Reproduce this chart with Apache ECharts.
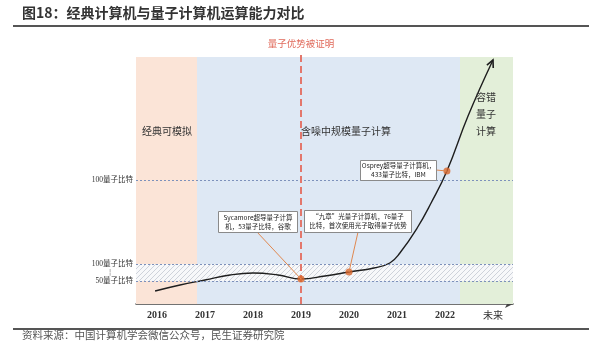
<!DOCTYPE html>
<html><head><meta charset="utf-8">
<script src="https://cdn.jsdelivr.net/npm/echarts@6/dist/echarts.min.js"></script>
<style>html,body{margin:0;padding:0;background:#fff}#c{width:589px;height:361px}</style>
</head><body><div id="c"></div>
<script>
// ---- data ----
const titleText = '图18：经典计算机与量子计算机运算能力对比';
const sourceText = '资料来源：中国计算机学会微信公众号，民生证券研究院';
const xTickValues = [2016, 2017, 2018, 2019, 2020, 2021, 2022, 2023];
const xTickLabels = ['2016', '2017', '2018', '2019', '2020', '2021', '2022', '未来'];
const yTickValues = [23, 40, 124];
const yTickLabels = ['50量子比特', '100量子比特', '100量子比特'];
const regionBounds = [2015.5625, 2016.833, 2022.3125, 2023.4167];
const regionNames = ['经典可模拟', '含噪中规模量子计算', '容错\n量子\n计算'];
const regionTop = 247;
const bandRange = [23, 40];
const curveYears = [2015.96, 2016.48, 2017.0, 2017.52, 2018.0, 2018.52, 2019.0, 2019.5, 2020.0, 2020.52, 2020.85, 2021.06, 2021.42, 2021.71, 2022.04, 2022.48, 2023.0];
const curveValues = [13, 19, 24, 29, 31, 29, 25, 28, 32, 36, 41, 51, 76, 101, 133, 188, 244];
const milestoneYears = [2019, 2020, 2022.04];
const milestoneValues = [25, 32, 133];
const milestoneTexts = ['Sycamore超导量子计算\n机，53量子比特，谷歌', '“九章”光量子计算机，76量子\n比特，首次使用光子取得量子优势', 'Osprey超导量子计算机，\n433量子比特，IBM'];
const proofYear = 2019;
const proofText = '量子优势被证明';

// ---- styles ----
const serif = '"Liberation Serif","Times New Roman","Noto Sans CJK SC",serif';
const sans = '"Noto Sans CJK SC","Noto Sans",sans-serif';
const regionColors = ['#fbe4d7', '#dee8f4', '#e3efd9'];

const pc = document.createElement('canvas');
pc.width = 5; pc.height = 5;
const g = pc.getContext('2d');
g.fillStyle = '#f7f8fa'; g.fillRect(0, 0, 5, 5);
g.strokeStyle = '#c8cdd6'; g.lineWidth = 0.9;
g.beginPath(); g.moveTo(0, 5); g.lineTo(5, 0); g.moveTo(-1, 1); g.lineTo(1, -1); g.moveTo(4, 6); g.lineTo(6, 4); g.stroke();

const chart = echarts.init(document.getElementById('c'), null, {renderer: 'canvas'});
const curveData = curveYears.map((x, i) => [x, curveValues[i]]);
const milestoneData = milestoneYears.map((x, i) => [x, milestoneValues[i]]);

const option = {
  animation: false,
  grid: {left: 136, right: 76, top: 52, bottom: 57, containLabel: false},
  xAxis: {
    type: 'value', min: regionBounds[0], max: regionBounds[3],
    axisLine: {show: true, symbol: ['none', 'arrow'], symbolSize: [6, 8], lineStyle: {color: '#444', width: 1.5}},
    axisTick: {show: false}, splitLine: {show: false},
    axisLabel: {
      customValues: xTickValues, margin: 6, color: '#333', fontSize: 10, fontFamily: serif, fontWeight: 'bold',
      formatter: v => {
        const t = xTickLabels[xTickValues.indexOf(v)];
        return /^\d+$/.test(t) ? t : '{cn|' + t + '}';
      },
      rich: {cn: {fontFamily: sans, fontWeight: 'normal', fontSize: 10, color: '#333'}}
    }
  },
  yAxis: {
    type: 'value', min: 0, max: 252,
    axisLine: {show: false}, axisTick: {show: false}, splitLine: {show: false},
    axisLabel: {
      customValues: yTickValues, margin: 3, color: '#333', fontSize: 7.5, fontFamily: serif,
      formatter: v => yTickLabels[yTickValues.indexOf(v)]
    }
  },
  series: [
    {
      type: 'line', data: [], z: 0, silent: true,
      markArea: {
        silent: true,
        data: regionColors.map((c, i) => [
          {xAxis: regionBounds[i], yAxis: 0, itemStyle: {color: c}},
          {xAxis: regionBounds[i + 1], yAxis: regionTop}
        ])
      }
    },
    {
      type: 'line', data: [], z: 1, silent: true,
      markArea: {
        silent: true,
        itemStyle: {color: {image: pc, repeat: 'repeat'}},
        data: [[{xAxis: regionBounds[0], yAxis: bandRange[0]}, {xAxis: regionBounds[3], yAxis: bandRange[1]}]]
      },
      markLine: {
        silent: true, symbol: ['none', 'none'], label: {show: false},
        lineStyle: {color: '#7d91bb', type: [2, 2], width: 1},
        data: yTickValues.map(v => ({yAxis: v}))
      }
    },
    {
      type: 'line', data: curveData, z: 3, smooth: 0.45, showSymbol: false, silent: true,
      lineStyle: {color: '#1e1e1e', width: 1.4}
    },
    {
      type: 'line', data: [], z: 4, silent: true,
      markLine: {
        silent: true, symbol: ['none', 'none'],
        lineStyle: {color: '#e3776c', type: [7, 4], width: 2},
        label: {show: true, position: 'end', formatter: proofText, color: '#e06a5b', fontSize: 9.5, fontFamily: sans, distance: 4},
        data: [{xAxis: proofYear}]
      }
    },
    {
      type: 'scatter', data: milestoneData, z: 6, symbolSize: 7, silent: true,
      itemStyle: {color: '#d8652a'}
    }
  ],
  graphic: []
};
chart.setOption(option);

function px(p) { return chart.convertToPixel({gridIndex: 0}, p); }

const graphics = [];
// title & rules
graphics.push({type: 'text', left: 22, top: 6, style: {text: titleText, fill: '#333', font: 'bold 14px ' + sans}});
graphics.push({type: 'line', shape: {x1: 13, y1: 26, x2: 589, y2: 26}, style: {stroke: '#555', lineWidth: 1.8}});
graphics.push({type: 'line', shape: {x1: 13, y1: 329, x2: 589, y2: 329}, style: {stroke: '#555', lineWidth: 1.8}});
graphics.push({type: 'text', left: 22, top: 330, style: {text: sourceText, fill: '#555', font: '10.5px ' + sans}});
// region labels
const regionLabelPos = [[167, 131], [346, 131], [486, 114]];
regionNames.forEach((t, i) => {
  graphics.push({type: 'text', x: regionLabelPos[i][0], y: regionLabelPos[i][1], z: 10,
    style: {text: t, fill: '#333', font: '10px ' + sans, textAlign: 'center', textVerticalAlign: 'middle', lineHeight: 17}});
});
// small mark between band labels
graphics.push({type: 'text', x: 110, y: 272, style: {text: '¦', fill: '#444', font: '6px ' + sans, textAlign: 'center', textVerticalAlign: 'middle'}});
// annotation boxes
const boxes = [
  {x: 218, y: 211, w: 79, h: 21, ax: 257, ay: 232},
  {x: 304, y: 210, w: 107, h: 22, ax: 358, ay: 232},
  {x: 360, y: 160, w: 76, h: 20, ax: 436, ay: 170}
];
boxes.forEach((b, i) => {
  const p = px(milestoneData[i]);
  graphics.push({type: 'line', z: 20, shape: {x1: b.ax, y1: b.ay, x2: p[0], y2: p[1]}, style: {stroke: '#e08850', lineWidth: 1}});
  graphics.push({type: 'rect', z: 21, shape: {x: b.x + 0.5, y: b.y + 0.5, width: b.w, height: b.h}, style: {fill: '#fff', stroke: '#8a8a8a', lineWidth: 1}});
  graphics.push({type: 'text', z: 22, x: b.x + b.w / 2 + 0.5, y: b.y + b.h / 2 + 0.5,
    style: {text: milestoneTexts[i], fill: '#222', font: '6.5px ' + sans, textAlign: 'center', textVerticalAlign: 'middle', lineHeight: 9}});
});
// arrowhead at curve end
const tip = px(curveData[curveData.length - 1]);
const prev = px(curveData[curveData.length - 2]);
const ang = Math.atan2(tip[1] - prev[1], tip[0] - prev[0]);
const L = 8, spread = 0.45;
graphics.push({type: 'polyline', z: 15, shape: {points: [
  [tip[0] - L * Math.cos(ang - spread), tip[1] - L * Math.sin(ang - spread)],
  tip,
  [tip[0] - L * Math.cos(ang + spread), tip[1] - L * Math.sin(ang + spread)]
]}, style: {stroke: '#1e1e1e', lineWidth: 1.6, fill: 'none'}});

chart.setOption({graphic: graphics});
</script>
</body></html>
